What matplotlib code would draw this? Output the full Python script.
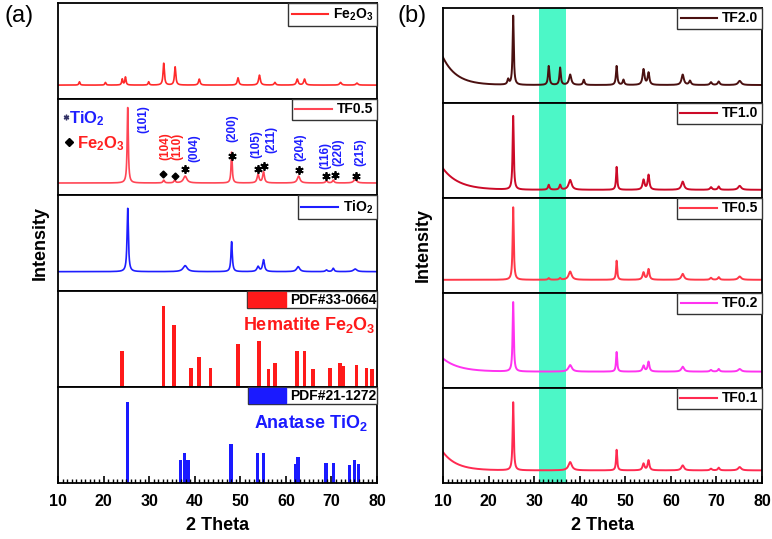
import numpy as np
import matplotlib
matplotlib.use("Agg")
import matplotlib.pyplot as plt
from matplotlib.patches import Patch
from matplotlib.lines import Line2D
from matplotlib.ticker import MultipleLocator

plt.rcParams['font.family'] = ['Liberation Sans', 'DejaVu Sans']
plt.rcParams['mathtext.fontset'] = 'custom'
plt.rcParams['mathtext.rm'] = 'Liberation Sans:bold'
plt.rcParams['mathtext.bf'] = 'Liberation Sans:bold'
plt.rcParams['mathtext.default'] = 'bf'

#---------------- data (peak lists) ----------------
# each pattern: peak position (2 theta), peak height (a.u.), peak width (FWHM, deg)
# background: extra height at 10 deg and its decay length (deg)

# panel (a)
fe2o3_pos = [14.7, 20.4, 24.1, 24.8, 29.9, 33.2, 35.7, 41.0, 49.5, 54.2, 57.6, 62.5, 64.1, 72.0, 75.6]
fe2o3_int = [10, 8, 18, 24, 10, 66, 55, 18, 22, 30, 8, 18, 18, 8, 6]
fe2o3_wid = [0.3, 0.3, 0.3, 0.3, 0.3, 0.35, 0.35, 0.4, 0.4, 0.45, 0.4, 0.45, 0.45, 0.5, 0.5]

tf05_pos = [25.3, 33.2, 35.6, 37.9, 48.1, 53.9, 55.1, 62.8, 68.9, 70.4, 75.2]
tf05_int = [220, 8, 8, 20, 90, 25, 32, 20, 6, 8, 10]
tf05_wid = [0.3, 0.4, 0.4, 0.9, 0.3, 0.5, 0.45, 0.7, 0.5, 0.45, 0.8]

tio2_pos = [25.3, 37.9, 48.1, 53.9, 55.1, 62.7, 68.9, 70.4, 75.2]
tio2_int = [190, 18, 90, 15, 35, 15, 5, 10, 8]
tio2_wid = [0.35, 1.1, 0.35, 0.6, 0.5, 0.8, 0.5, 0.45, 0.9]

# reference cards
hem_pos = [24.0, 33.1, 35.5, 39.2, 40.9, 43.5, 49.5, 54.1, 56.2, 57.6, 62.4, 64.1, 66.0,
           69.7, 71.9, 72.5, 75.5, 77.7, 78.9]
hem_int = [109, 242, 185, 57, 90, 57, 128, 138, 53, 71, 109, 109, 53, 57, 71, 64, 67, 57, 55]
ana_pos = [25.2, 36.9, 37.8, 38.5, 48.0, 53.8, 55.1, 62.1, 62.7, 68.8, 70.4, 74.0, 75.0, 76.0]
ana_int = [241, 68, 88, 68, 117, 88, 88, 57, 76, 60, 60, 53, 68, 57]

# Miller indices on TF0.5
hkl_labels = ['(101)', '(104)', '(110)', '(004)', '(200)', '(105)', '(211)', '(204)', '(116)', '(220)', '(215)']
hkl_x = [28.8, 33.5, 36.1, 40.0, 48.3, 53.5, 56.9, 63.1, 68.6, 71.5, 76.3]
hkl_y = [0.79, 0.51, 0.51, 0.49, 0.70, 0.53, 0.58, 0.50, 0.41, 0.45, 0.45]
hkl_phase = ['T', 'F', 'F', 'T', 'T', 'T', 'T', 'T', 'T', 'T', 'T']
star_x = [37.9, 48.1, 53.8, 55.3, 62.8, 68.7, 70.8, 75.3]
star_y = [0.27, 0.41, 0.27, 0.30, 0.26, 0.20, 0.21, 0.20]
diam_x = [33.1, 35.6]
diam_y = [0.22, 0.20]

# panel (b)
b_names = ['TF2.0', 'TF1.0', 'TF0.5', 'TF0.2', 'TF0.1']
b_colors = ['#4a1010', '#cc0a28', '#ff3848', '#ff33f0', '#ff2a50']
b_pos = [
    [24.3, 25.4, 33.2, 35.7, 37.9, 40.9, 48.1, 49.6, 54.0, 55.1, 62.6, 64.2, 68.8, 70.5, 75.1],
    [25.4, 33.2, 35.7, 37.9, 48.1, 54.0, 55.1, 62.6, 68.8, 70.5, 75.1],
    [25.4, 33.2, 35.7, 37.9, 48.1, 54.0, 55.1, 62.6, 68.8, 70.5, 75.1],
    [25.4, 37.9, 48.1, 54.0, 55.1, 62.6, 68.8, 70.5, 75.1],
    [25.4, 37.9, 48.1, 54.0, 55.1, 62.6, 68.8, 70.5, 75.1],
]
b_int = [
    [15, 200, 55, 50, 30, 15, 55, 15, 45, 35, 30, 12, 8, 10, 12],
    [225, 15, 15, 30, 70, 30, 45, 25, 8, 10, 12],
    [220, 5, 5, 25, 58, 22, 32, 18, 6, 8, 10],
    [212, 20, 60, 18, 30, 15, 5, 8, 8],
    [205, 25, 62, 20, 30, 15, 5, 8, 10],
]
b_wid = [
    [0.4, 0.3, 0.35, 0.35, 0.6, 0.4, 0.35, 0.4, 0.5, 0.45, 0.6, 0.5, 0.5, 0.5, 0.8],
    [0.3, 0.4, 0.4, 0.8, 0.3, 0.5, 0.45, 0.7, 0.5, 0.45, 0.8],
    [0.3, 0.4, 0.4, 0.8, 0.3, 0.5, 0.45, 0.7, 0.5, 0.45, 0.8],
    [0.3, 0.9, 0.3, 0.5, 0.45, 0.7, 0.5, 0.45, 0.8],
    [0.3, 0.9, 0.3, 0.5, 0.45, 0.7, 0.5, 0.45, 0.8],
]
b_bg_amp = [80, 65, 0, 40, 55]
b_bg_len = [3.0, 3.5, 1.0, 3.5, 3.0]
b_base = [52, 25, 40, 50, 38]
b_ylim_top = [275, 290, 288, 290, 286]

highlight = (31, 37)

#---------------- helpers ----------------
tt = np.linspace(10, 80, 4000)


def pattern(pos, inten, wid, bg_amp=0, bg_len=1.0):
    y = bg_amp * np.exp(-(tt - 10) / bg_len)
    for p, h, w in zip(pos, inten, wid):
        y = y + h / (1 + ((tt - p) / (w / 2)) ** 2)
    return y


def style_axis(ax, bottom=False):
    ax.set_xlim(10, 80)
    ax.set_yticks([])
    for s in ax.spines.values():
        s.set_linewidth(1.3)
    if bottom:
        ax.xaxis.set_major_locator(MultipleLocator(10))
        ax.xaxis.set_minor_locator(MultipleLocator(1))
        ax.tick_params(axis='x', which='both', direction='in', top=False, pad=8,
                       labelsize=11.5)
        ax.tick_params(axis='x', which='major', length=5, width=1.2)
        ax.tick_params(axis='x', which='minor', length=3, width=1.0)
        for lb in ax.get_xticklabels():
            lb.set_fontweight('bold')
        ax.set_xlabel('2 Theta', fontsize=13, fontweight='bold', labelpad=6)
    else:
        ax.tick_params(axis='x', which='both', bottom=False, labelbottom=False)


def line_legend(ax, color, label):
    h = [Line2D([0], [0], color=color, lw=1.5)]
    leg = ax.legend(h, [label], loc='upper right', borderaxespad=0, fancybox=False,
                    framealpha=1, edgecolor='#333333', handlelength=2.6, handletextpad=0.4,
                    borderpad=0.25, prop={'weight': 'bold', 'size': 10})
    leg.get_frame().set_linewidth(1.0)


def card_legend(ax, color, label):
    h = [Patch(facecolor=color, edgecolor=color)]
    leg = ax.legend(h, [label], loc='upper right', borderaxespad=0, fancybox=False,
                    framealpha=1, edgecolor='#333333', handlelength=2.7, handleheight=1.3,
                    handletextpad=0.3, borderpad=0.05, prop={'weight': 'bold', 'size': 10})
    leg.get_frame().set_linewidth(1.0)


fig = plt.figure(figsize=(7.72, 5.39), dpi=100)
gs_a = fig.add_gridspec(5, 1, left=58/772, right=377/772, top=1-3/539, bottom=1-483/539, hspace=0)
gs_b = fig.add_gridspec(5, 1, left=443/772, right=762/772, top=1-8/539, bottom=1-483/539, hspace=0)

#---------------- panel (a) ----------------
ax_a = [fig.add_subplot(gs_a[i]) for i in range(5)]

ax = ax_a[0]
ax.plot(tt, pattern(fe2o3_pos, fe2o3_int, fe2o3_wid), color='#ff2a2a', lw=1.2)
ax.set_ylim(-42, 248)
line_legend(ax, '#ff2a2a', 'Fe$_2$O$_3$')

ax = ax_a[1]
ax.plot(tt, pattern(tf05_pos, tf05_int, tf05_wid), color='#ff4655', lw=1.2)
ax.set_ylim(-35, 245)
line_legend(ax, '#ff4655', 'TF0.5')
trans = ax.get_xaxis_transform()
for lab, x, y, ph in zip(hkl_labels, hkl_x, hkl_y, hkl_phase):
    ax.text(x, y, lab, transform=trans, rotation=90, ha='center', va='center',
            fontsize=8.5, fontweight='bold', color='#1e1eff' if ph == 'T' else '#ff2020')
ax.plot(star_x, star_y, transform=trans, ls='none', marker=(6, 2, 0), ms=6, mew=1.3, color='black')
ax.plot(diam_x, diam_y, transform=trans, ls='none', marker='D', ms=3.5, color='black')
ax.plot([0.025], [0.81], transform=ax.transAxes, ls='none', marker=(6, 2, 0), ms=4, mew=1.0, color='#333366')
ax.text(0.035, 0.80, 'TiO$_2$', transform=ax.transAxes, ha='left', va='center',
        fontsize=12, fontweight='bold', color='#1e1eff')
ax.plot([0.035], [0.55], transform=ax.transAxes, ls='none', marker='D', ms=4, color='black')
ax.text(0.06, 0.54, 'Fe$_2$O$_3$', transform=ax.transAxes, ha='left', va='center',
        fontsize=12, fontweight='bold', color='#ff2020')

ax = ax_a[2]
ax.plot(tt, pattern(tio2_pos, tio2_int, tio2_wid), color='#1e1eff', lw=1.2)
ax.set_ylim(-58, 230)
line_legend(ax, '#1e1eff', 'TiO$_2$')

ax = ax_a[3]
ax.bar(hem_pos, hem_int, width=0.75, color='#ff1a1a')
ax.set_ylim(0, 287)
card_legend(ax, '#ff1a1a', 'PDF#33-0664')
ax.text(79.6, 0.65, 'Hematite Fe$_2$O$_3$', transform=ax.get_xaxis_transform(), ha='right',
        va='center', fontsize=13, fontweight='bold', color='#ff1a1a')

ax = ax_a[4]
ax.bar(ana_pos, ana_int, width=0.75, color='#1a1aff')
ax.set_ylim(0, 286)
card_legend(ax, '#1a1aff', 'PDF#21-1272')
ax.text(78.0, 0.625, 'Anatase TiO$_2$', transform=ax.get_xaxis_transform(), ha='right',
        va='center', fontsize=13, fontweight='bold', color='#1a1aff')

for i, ax in enumerate(ax_a):
    style_axis(ax, bottom=(i == 4))

#---------------- panel (b) ----------------
ax_b = [fig.add_subplot(gs_b[i]) for i in range(5)]
for i, ax in enumerate(ax_b):
    y = pattern(b_pos[i], b_int[i], b_wid[i], b_bg_amp[i], b_bg_len[i])
    ax.axvspan(highlight[0], highlight[1], color='#4cf7c7', lw=0, zorder=0)
    ax.plot(tt, y, color=b_colors[i], lw=1.4)
    ax.set_ylim(-b_base[i], b_ylim_top[i] - b_base[i])
    line_legend(ax, b_colors[i], b_names[i])
    style_axis(ax, bottom=(i == 4))

#---------------- labels ----------------
fig.text(40/772, 1-243/539, 'Intensity', rotation=90, ha='center', va='center',
         fontsize=13, fontweight='bold')
fig.text(423/772, 1-245/539, 'Intensity', rotation=90, ha='center', va='center',
         fontsize=13, fontweight='bold')
fig.text(19/772, 1-16/539, '(a)', ha='center', va='center', fontsize=17)
fig.text(412/772, 1-16/539, '(b)', ha='center', va='center', fontsize=17)

fig.savefig('out.png', dpi=100)
